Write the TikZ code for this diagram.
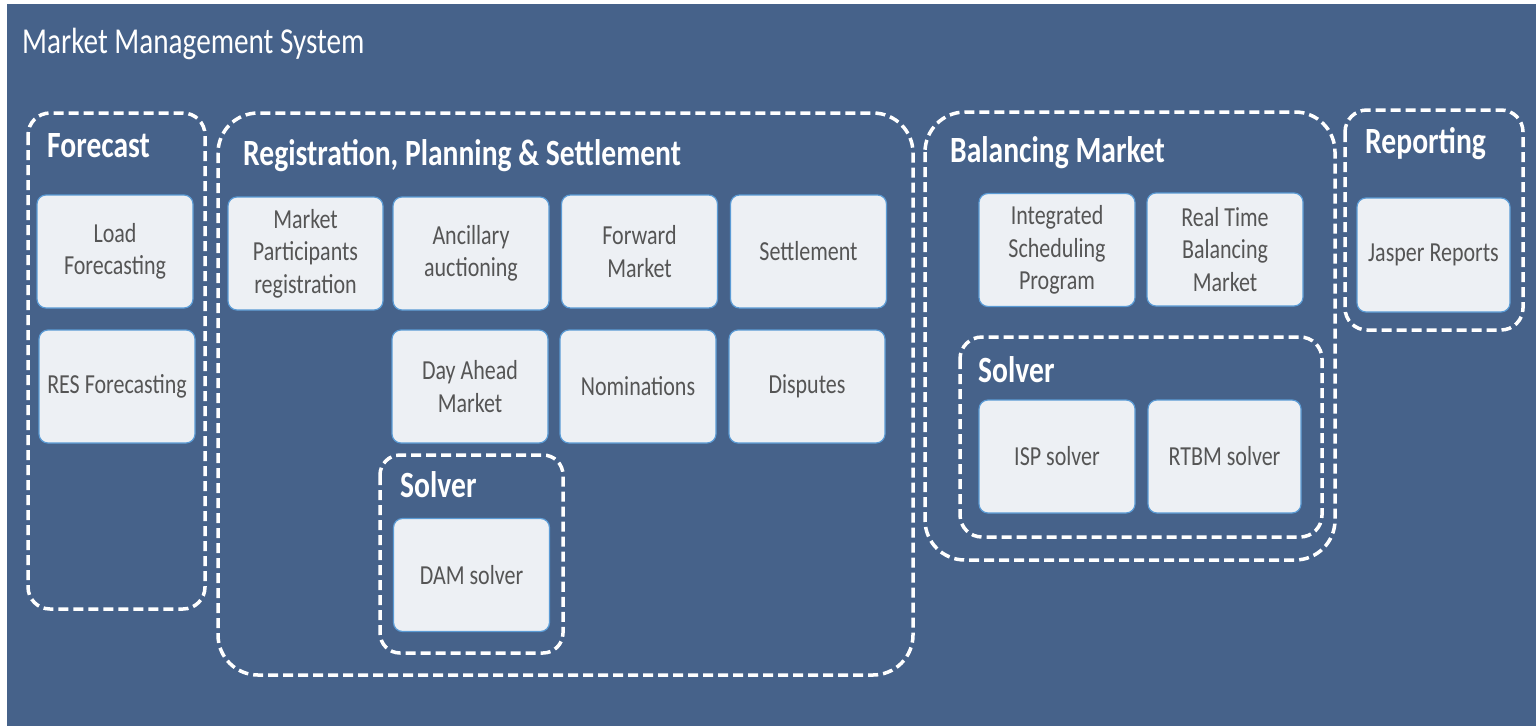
\documentclass[tikz,border=0pt]{standalone}
\usepackage{fontspec}
\setmainfont{Carlito}[FakeStretch=0.8]
\usepackage{xcolor}
\usepackage{tikz}
\definecolor{mmsblue}{HTML}{46628A}
\definecolor{modfill}{HTML}{EDF0F4}
\definecolor{modline}{HTML}{5B9BD5}
\definecolor{modtext}{HTML}{555555}

\begin{document}
\begin{tikzpicture}[x=1pt, y=-1pt,
  module/.style={fill=modfill, draw=modline, line width=1.2pt, rounded corners=9pt,
    minimum width=156pt, minimum height=113pt, align=center, text=modtext,
    inner sep=2pt, font=\fontsize{27.5}{32.5}\selectfont},
  group/.style={draw=white, line width=3.5pt, dash pattern=on 10pt off 5pt},
  grouptitle/.style={anchor=base west, inner sep=0pt, text=white,
    font=\fontsize{37}{40}\selectfont\bfseries}]
  % page and background
  \fill[white] (0,0) rectangle (1536,726);
  \useasboundingbox (0,0) rectangle (1536,726);
  \fill[mmsblue] (7,4) rectangle (1536,726);
  \node[anchor=base west, inner sep=0pt, text=white,
        font=\fontsize{36.5}{40}\selectfont] (title) at (22,53) {Market Management System};

  % dashed groups
  \draw[group, rounded corners=22pt] (28,113) rectangle (205,609);
  \draw[group, rounded corners=40pt] (218,113) rectangle (913,675);
  \draw[group, rounded corners=20pt] (380,455) rectangle (563,653);
  \draw[group, rounded corners=40pt] (925,112) rectangle (1335,560);
  \draw[group, rounded corners=22pt] (960,337) rectangle (1322,537);
  \draw[group, rounded corners=22pt] (1345,110) rectangle (1523,330);

  \node[grouptitle] (fctitle) at (47,157) {Forecast};
  \node[grouptitle] (rpstitle) at (243,165) {Registration, Planning \& Settlement};
  \node[grouptitle] (damsolvtitle) at (400,497) {Solver};
  \node[grouptitle] (baltitle) at (950,162) {Balancing Market};
  \node[grouptitle] (balsolvtitle) at (978,382) {Solver};
  \node[grouptitle] (reptitle) at (1365,153) {Reporting};

  % forecast
  \node[module] (loadfc) at (115,251.5) {Load\\Forecasting};
  \node[module] (resfc) at (117,386.5) {RES Forecasting};

  % registration, planning & settlement
  \node[module, minimum width=155pt] (mpreg) at (305.5,253.5) {Market\\Participants\\registration};
  \node[module] (ancil) at (471,253.5) {Ancillary\\auctioning};
  \node[module] (fwd) at (639.5,251.5) {Forward\\Market};
  \node[module] (settle) at (808.5,251.5) {Settlement};
  \node[module] (dam) at (470,386.5) {Day Ahead\\Market};
  \node[module] (nomin) at (638,386.5) {Nominations};
  \node[module] (disp) at (807,386.5) {Disputes};
  \node[module] (damsolver) at (471.5,575) {DAM solver};

  % balancing market
  \node[module] (isp) at (1057,250) {Integrated\\Scheduling\\Program};
  \node[module] (rtbm) at (1225,249.5) {Real Time\\Balancing\\Market};
  \node[module] (ispsolver) at (1057,456.5) {ISP solver};
  \node[module, minimum width=153pt] (rtbmsolver) at (1224.5,456.5) {RTBM solver};

  % reporting
  \node[module, minimum width=153pt, minimum height=114pt] (jasper) at (1433.5,255) {Jasper Reports};
\end{tikzpicture}
\end{document}
